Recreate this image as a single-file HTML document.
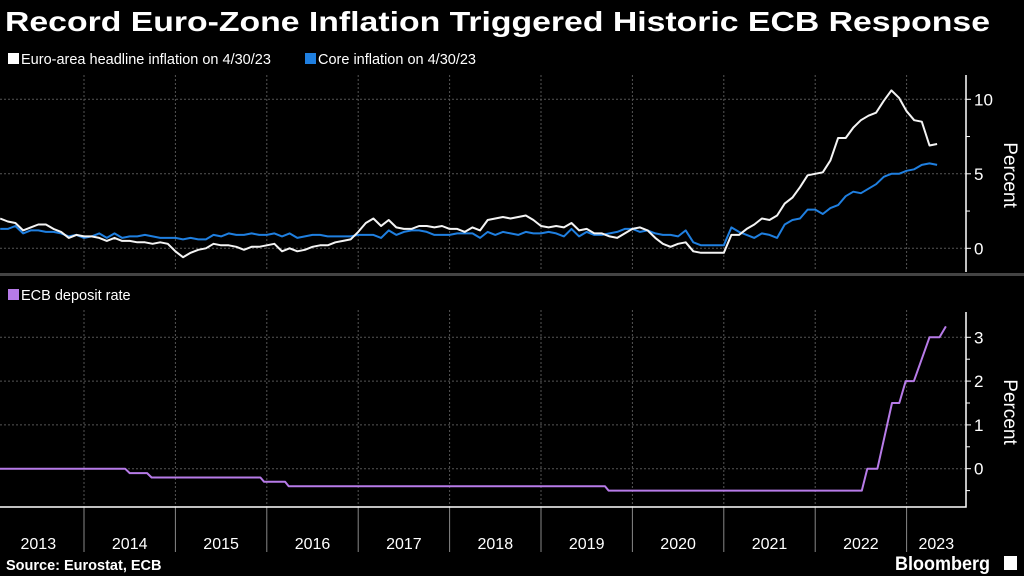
<!DOCTYPE html>
<html><head><meta charset="utf-8"><style>
html,body{margin:0;padding:0;background:#000;}
svg{display:block;font-family:"Liberation Sans",sans-serif;}
</style></head><body>
<svg id="chart" width="1024" height="576" viewBox="0 0 1024 576" xmlns="http://www.w3.org/2000/svg">
<rect width="1024" height="576" fill="#000"/>
<text x="5" y="31" fill="#fff" font-size="28" font-weight="bold" textLength="985" lengthAdjust="spacingAndGlyphs">Record Euro-Zone Inflation Triggered Historic ECB Response</text>
<g>
<rect x="8" y="53" width="11" height="11" fill="#fff"/>
<text x="21" y="64" fill="#fff" font-size="14.5">Euro-area headline inflation on 4/30/23</text>
<rect x="305" y="53" width="11" height="11" fill="#1f7fe0"/>
<text x="318" y="64" fill="#fff" font-size="14.5">Core inflation on 4/30/23</text>
</g>
<rect x="0" y="273" width="1024" height="3" fill="#444"/>
<g>
<rect x="8" y="289" width="11" height="11" fill="#b77be8"/>
<text x="21" y="300" fill="#fff" font-size="14.5">ECB deposit rate</text>
</g>
<g id="grid"></g>
<g id="marks"></g>
<g id="axes"></g>
<text transform="translate(1004,175) rotate(90)" text-anchor="middle" fill="#fff" font-size="19">Percent</text>
<text transform="translate(1004,412) rotate(90)" text-anchor="middle" fill="#fff" font-size="19">Percent</text>
<text x="6" y="570" fill="#fff" font-size="14.5" font-weight="bold">Source: Eurostat, ECB</text>
<text x="895" y="570" fill="#fff" font-size="19" font-weight="bold" textLength="95" lengthAdjust="spacingAndGlyphs">Bloomberg</text>
<rect x="1004" y="556" width="13" height="14" fill="#fff"/>
</svg>
<script>
const years = [2013,2014,2015,2016,2017,2018,2019,2020,2021,2022,2023];
const headline = [2.0,1.8,1.7,1.2,1.4,1.6,1.6,1.3,1.1,0.7,0.9,0.8,
0.8,0.7,0.5,0.7,0.5,0.5,0.4,0.4,0.3,0.4,0.3,-0.2,
-0.6,-0.3,-0.1,0.0,0.3,0.2,0.2,0.1,-0.1,0.1,0.1,0.2,
0.3,-0.2,0.0,-0.2,-0.1,0.1,0.2,0.2,0.4,0.5,0.6,1.1,
1.7,2.0,1.5,1.9,1.4,1.3,1.3,1.5,1.5,1.4,1.5,1.3,
1.3,1.1,1.4,1.2,1.9,2.0,2.1,2.0,2.1,2.2,1.9,1.5,
1.4,1.5,1.4,1.7,1.2,1.3,1.0,1.0,0.8,0.7,1.0,1.3,
1.4,1.2,0.7,0.3,0.1,0.3,0.4,-0.2,-0.3,-0.3,-0.3,-0.3,
0.9,0.9,1.3,1.6,2.0,1.9,2.2,3.0,3.4,4.1,4.9,5.0,
5.1,5.9,7.4,7.4,8.1,8.6,8.9,9.1,9.9,10.6,10.1,9.2,
8.6,8.5,6.9,7.0];
const core = [1.3,1.3,1.5,1.0,1.2,1.2,1.1,1.1,1.0,0.8,0.9,0.7,
0.8,1.0,0.7,1.0,0.7,0.8,0.8,0.9,0.8,0.7,0.7,0.7,
0.6,0.7,0.6,0.6,0.9,0.8,1.0,0.9,0.9,1.0,0.9,0.9,
1.0,0.8,1.0,0.7,0.8,0.9,0.9,0.8,0.8,0.8,0.8,0.9,
0.9,0.9,0.7,1.2,0.9,1.1,1.2,1.2,1.1,0.9,0.9,0.9,
1.0,1.0,1.0,0.7,1.1,0.9,1.1,1.0,0.9,1.1,1.0,1.0,
1.1,1.0,0.8,1.3,0.8,1.1,0.9,0.9,1.0,1.1,1.3,1.3,
1.1,1.2,1.0,0.9,0.9,0.8,1.2,0.4,0.2,0.2,0.2,0.2,
1.4,1.1,0.9,0.7,1.0,0.9,0.7,1.6,1.9,2.0,2.6,2.6,
2.3,2.7,2.9,3.5,3.8,3.7,4.0,4.3,4.8,5.0,5.0,5.2,
5.3,5.6,5.7,5.6];
const rateDates = [2013.0,2014.45,2014.5,2014.69,2014.74,2015.93,2015.97,2016.2,2016.24,2019.7,2019.74,2022.51,2022.57,2022.68,2022.84,2022.92,2022.99,2023.08,2023.25,2023.36,2023.43];
const rateValues = [0,0,-0.1,-0.1,-0.2,-0.2,-0.3,-0.3,-0.4,-0.4,-0.5,-0.5,0,0,1.5,1.5,2.0,2.0,3.0,3.0,3.25];
const topTicks = [0,5,10];
const topMinor = [2.5,7.5];
const botTicks = [0,1,2,3];
const botMinor = [-0.5,0.5,1.5,2.5];

const NS = "http://www.w3.org/2000/svg";
const AXIS_X = 966;
function xDate(d){ return 84 + (d - 2014) * 91.4; }
function xMonth(i){ return xDate(2013 + (i + 1) / 12); }
function yTop(v){ return 248.3 - v * 14.9; }
function yBot(v){ return 468.7 - v * 43.8; }
function mk(tag, attrs, parent){ const e = document.createElementNS(NS, tag); for (const k in attrs) e.setAttribute(k, attrs[k]); parent.appendChild(e); return e; }
const grid = document.getElementById('grid'), marks = document.getElementById('marks'), axes = document.getElementById('axes');

// vertical year gridlines and separators
years.forEach((y, i) => {
  if (i > 0) {
    const x = xDate(y);
    let g1 = mk('line', {x1:x, x2:x, y1:75, y2:270, stroke:'#555', 'stroke-dasharray':'2,2'}, grid);
    
    
    let g2 = mk('line', {x1:x, x2:x, y1:310, y2:507, stroke:'#555', 'stroke-dasharray':'2,2'}, grid);
    
    
    let t = mk('line', {x1:x, x2:x, y1:507, y2:552, stroke:'#888'}, axes);
    
    
  }
  const mid = Math.min(xDate(y + 0.5), (xDate(y) + AXIS_X) / 2);
  let lbl = mk('text', {x:mid, y:549, fill:'#fff', 'font-size':'16', 'text-anchor':'middle'}, axes);
  lbl.textContent = y;
  
  
});
// horizontal gridlines / ticks
topTicks.forEach(v => {
  let g = mk('line', {x1:0, x2:AXIS_X, y1:yTop(v), y2:yTop(v), stroke:'#555', 'stroke-dasharray':'2,2'}, grid);
  
  
  let tk = mk('line', {x1:AXIS_X, x2:AXIS_X+5, y1:yTop(v), y2:yTop(v), stroke:'#fff'}, axes);
  
  
  let t = mk('text', {x:AXIS_X+8, y:yTop(v)+6, fill:'#fff', 'font-size':'17'}, axes);
  t.textContent = v;
  
  
});
topMinor.forEach(v => {
  let tk = mk('line', {x1:AXIS_X, x2:AXIS_X+4, y1:yTop(v), y2:yTop(v), stroke:'#fff'}, axes);
  
  
});
botTicks.forEach(v => {
  let g = mk('line', {x1:0, x2:AXIS_X, y1:yBot(v), y2:yBot(v), stroke:'#555', 'stroke-dasharray':'2,2'}, grid);
  
  
  let tk = mk('line', {x1:AXIS_X, x2:AXIS_X+5, y1:yBot(v), y2:yBot(v), stroke:'#fff'}, axes);
  
  
  let t = mk('text', {x:AXIS_X+8, y:yBot(v)+6, fill:'#fff', 'font-size':'17'}, axes);
  t.textContent = v;
  
  
});
botMinor.forEach(v => {
  let tk = mk('line', {x1:AXIS_X, x2:AXIS_X+4, y1:yBot(v), y2:yBot(v), stroke:'#fff'}, axes);
  
  
});
let ax1 = mk('line', {x1:AXIS_X, x2:AXIS_X, y1:75, y2:272, stroke:'#fff', 'stroke-width':1.5}, axes);


let ax2 = mk('polyline', {points:`${AXIS_X},312 ${AXIS_X},507 0,507`, fill:'none', stroke:'#fff', 'stroke-width':1.5}, axes);



// series
const hPts = headline.map((v, i) => xMonth(i).toFixed(1) + ',' + yTop(v).toFixed(1)).join(' ');
const cPts = core.map((v, i) => xMonth(i).toFixed(1) + ',' + yTop(v).toFixed(1)).join(' ');
const rPts = rateDates.map((d, i) => xDate(d).toFixed(1) + ',' + yBot(rateValues[i]).toFixed(1)).join(' ');
let lc = mk('polyline', {points:cPts, fill:'none', stroke:'#1f7fe0', 'stroke-width':2, 'stroke-linejoin':'round'}, marks);


let lh = mk('polyline', {points:hPts, fill:'none', stroke:'#f4f4f4', 'stroke-width':2, 'stroke-linejoin':'round'}, marks);


let lr = mk('polyline', {points:rPts, fill:'none', stroke:'#b77be8', 'stroke-width':2, 'stroke-linejoin':'round'}, marks);


</script>
</body></html>
